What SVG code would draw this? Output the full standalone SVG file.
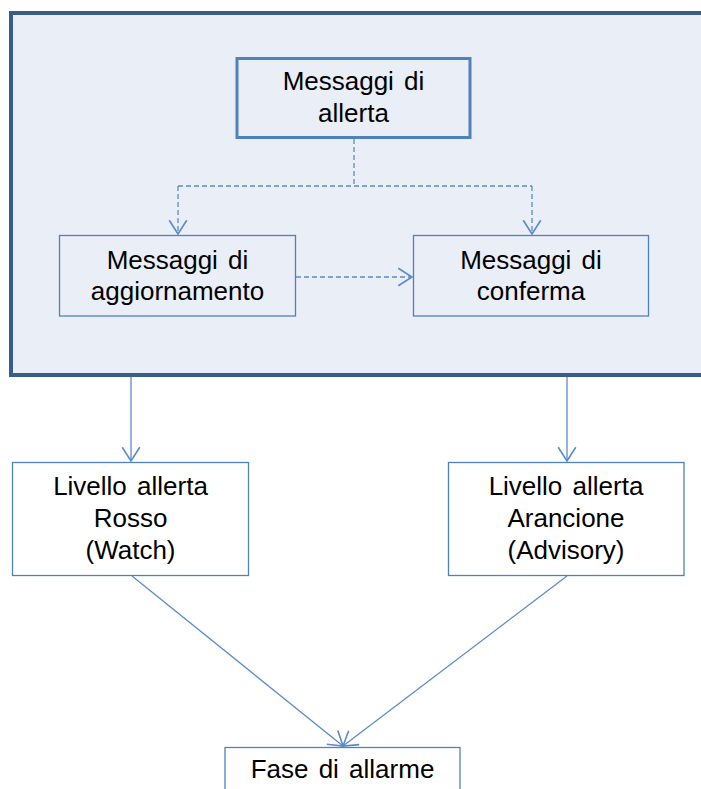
<svg xmlns="http://www.w3.org/2000/svg" width="701" height="789" viewBox="0 0 701 789">
<style>
.box{fill:#ffffff;stroke:#4F81BD;stroke-width:1.3}
.inbox{fill:#EAEEF6;stroke:#4F81BD;stroke-width:1.3}
.conn{fill:none;stroke:#5B8BC9;stroke-width:1.3}
.dash{stroke-dasharray:5,3}
text{font-family:"Liberation Sans",Arial,sans-serif;font-size:26px;word-spacing:3px;fill:#000;text-anchor:middle}
</style>
<defs>
<marker id="arr" markerUnits="userSpaceOnUse" markerWidth="20" markerHeight="20" viewBox="-12 -8 14 16" refX="0" refY="0" orient="auto">
<path d="M-11,-7 L0,0 L-11,7" fill="none" stroke="#5B8BC9" stroke-width="1.3"/>
</marker>
</defs>
<g id="outer">
<rect x="11" y="13" width="720" height="362" fill="#EAEEF6" stroke="#385D8A" stroke-width="4"/>
</g>
<g id="connectors">
<path class="conn dash" d="M354,139 V186 M178,186 H532"/>
<path class="conn dash" d="M178,186 V234" marker-end="url(#arr)"/>
<path class="conn dash" d="M532,186 V234" marker-end="url(#arr)"/>
<path class="conn dash" d="M296,277 H412" marker-end="url(#arr)"/>
<path class="conn" d="M131,377 V461" marker-end="url(#arr)"/>
<path class="conn" d="M567,377 V461" marker-end="url(#arr)"/>
<path class="conn" d="M132,576 L343,746" marker-end="url(#arr)"/>
<path class="conn" d="M567,576 L343,746" marker-end="url(#arr)"/>
</g>
<g id="alert">
<rect x="237" y="58.5" width="233" height="79" fill="#EAEEF6" stroke="#4F81BD" stroke-width="3"/>
<text x="353.5" y="90">Messaggi di</text>
<text x="353.5" y="122">allerta</text>
</g>
<g id="update">
<rect class="inbox" x="59.5" y="235.5" width="236" height="80.5"/>
<text x="177.5" y="269">Messaggi di</text>
<text x="177.5" y="300">aggiornamento</text>
</g>
<g id="confirm">
<rect class="inbox" x="413.5" y="235.5" width="235" height="80.5"/>
<text x="531" y="269">Messaggi di</text>
<text x="531" y="300">conferma</text>
</g>
<g id="red">
<rect class="box" x="12.5" y="462.5" width="236" height="113"/>
<text x="130.5" y="495">Livello allerta</text>
<text x="130.5" y="527">Rosso</text>
<text x="130.5" y="559">(Watch)</text>
</g>
<g id="orange">
<rect class="box" x="448.5" y="462.5" width="235.5" height="113"/>
<text x="566" y="495">Livello allerta</text>
<text x="566" y="527">Arancione</text>
<text x="566" y="559">(Advisory)</text>
</g>
<g id="alarm">
<rect class="box" x="225" y="747.5" width="235" height="60"/>
<text x="342.5" y="778">Fase di allarme</text>
</g>
</svg>
